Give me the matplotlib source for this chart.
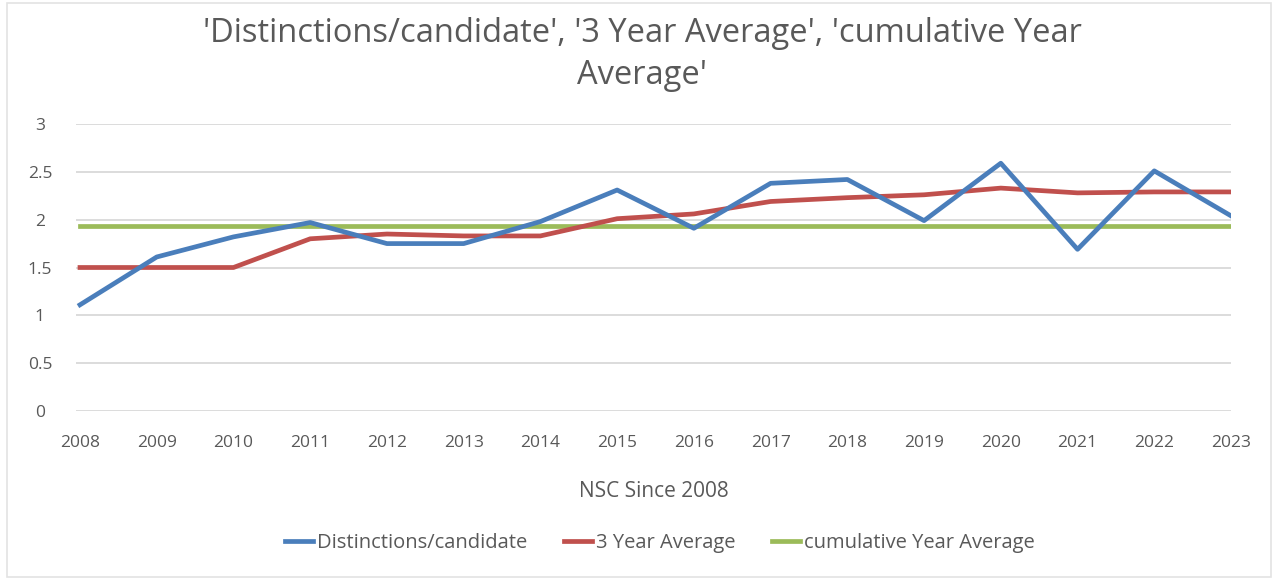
import matplotlib.pyplot as plt
import matplotlib.patches as mpatches

plt.rcParams['font.family'] = ['Open Sans', 'DejaVu Sans']

years = [2008, 2009, 2010, 2011, 2012, 2013, 2014, 2015,
         2016, 2017, 2018, 2019, 2020, 2021, 2022, 2023]
distinctions = [1.11, 1.61, 1.82, 1.97, 1.75, 1.75, 1.98, 2.31,
                1.91, 2.38, 2.42, 1.99, 2.59, 1.69, 2.51, 2.04]
three_year_avg = [1.50, 1.50, 1.50, 1.80, 1.85, 1.83, 1.83, 2.01,
                  2.06, 2.19, 2.23, 2.26, 2.33, 2.28, 2.29, 2.29]
cumulative_avg = [1.93] * len(years)

series_names = ['Distinctions/candidate', '3 Year Average', 'cumulative Year Average']
colors = ['#4a7ebb', '#c0504d', '#9bbb59']
text_grey = '#595959'

W, H = 1273, 579
fig = plt.figure(figsize=(W / 100, H / 100), dpi=100)

# axes box in pixels: gridlines from x=76 to 1231, y=0 at 411, y=3 at 124
ax = fig.add_axes([76 / W, 1 - 411 / H, (1231 - 76) / W, (411 - 124) / H])
px_per_year = (1231 - 80) / 15
ax.set_xlim(2008 - 4 / px_per_year, 2023)
ax.set_ylim(0, 3)

# green drawn first so the others sit on top, as in the original
ax.plot(years, cumulative_avg, color=colors[2], lw=3.4, label=series_names[2], zorder=3)
ax.plot(years, three_year_avg, color=colors[1], lw=3.4, label=series_names[1], zorder=4)
ax.plot(years, distinctions, color=colors[0], lw=3.4, label=series_names[0], zorder=5)

ax.set_yticks([0, 0.5, 1, 1.5, 2, 2.5, 3])
ax.set_yticklabels(['0', '0.5', '1', '1.5', '2', '2.5', '3'])
ax.set_xticks(years)
ax.set_xticklabels([str(y) for y in years])
ax.grid(axis='y', color='#d9d9d9', lw=1.3, zorder=0)
ax.set_axisbelow(True)
for s in ax.spines.values():
    s.set_visible(False)
ax.tick_params(axis='both', length=0, labelsize=12.5, colors=text_grey)
ax.tick_params(axis='y', pad=26)
for lab in ax.get_yticklabels():
    lab.set_ha('center')
ax.tick_params(axis='x', pad=17)

ax.set_xlabel('NSC Since 2008', fontsize=15, color=text_grey, labelpad=22)

fig.text(642 / W, 1 - 34 / H, "'Distinctions/candidate', '3 Year Average', 'cumulative Year",
         ha='center', va='center', fontsize=23.5, color=text_grey)
fig.text(642 / W, 1 - 75 / H, "Average'", ha='center', va='center', fontsize=23.5, color=text_grey)

handles, labels = ax.get_legend_handles_labels()
order = [2, 1, 0]
fig.legend([handles[i] for i in order], [labels[i] for i in order],
           loc='center', bbox_to_anchor=(660 / W, 1 - 543 / H), ncol=3, frameon=False,
           fontsize=14.5, handlelength=1.4, handletextpad=0.2, columnspacing=1.8,
           labelcolor=text_grey)

# faint chart border
fig.patches.append(mpatches.Rectangle((7 / W, 2 / H), (W - 9) / W, (H - 5) / H,
                                      transform=fig.transFigure, fill=False,
                                      edgecolor='#e3e3e3', lw=1.2))

fig.savefig('out.png', dpi=100)
